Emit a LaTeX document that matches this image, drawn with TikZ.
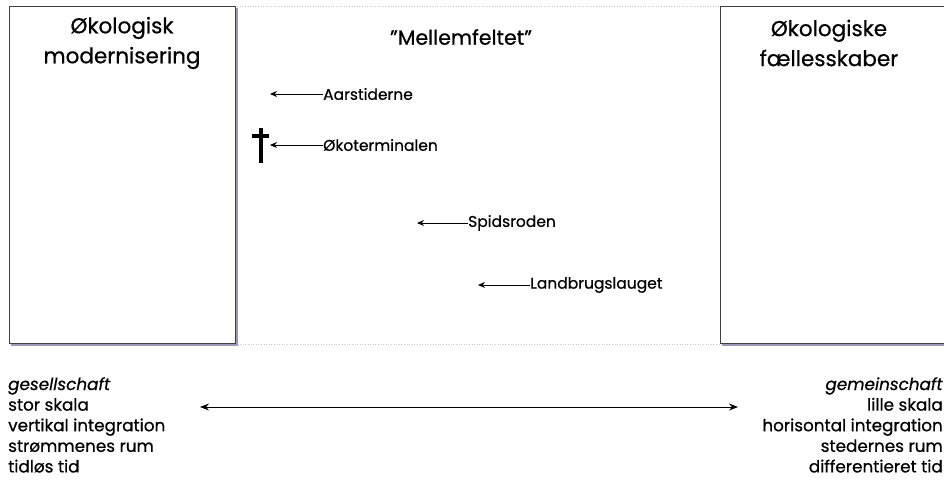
\documentclass[tikz,border=0pt]{standalone}
\usepackage{fontspec}
\setmainfont{Poppins}[FakeBold=0.6]
\usetikzlibrary{arrows.meta}
\definecolor{shadowc}{HTML}{9A9AB8}
\definecolor{dotc}{HTML}{C8C8C8}
\tikzset{
  bigbox/.style={draw=black!75, line width=0.8pt, fill=white},
  title/.style={font=\fontsize{21.5}{30}\selectfont, align=center, inner sep=0pt},
  lbl/.style={font=\fontsize{15.5}{18}\selectfont, anchor=west, inner sep=0pt},
  side/.style={font=\fontsize{16.8}{20.6}\selectfont, inner sep=0pt},
  pointer/.style={-{Stealth[length=7pt,width=6pt]}, line width=0.9pt},
}
\begin{document}
\begin{tikzpicture}[x=1pt,y=-1pt]
\useasboundingbox (0,0) rectangle (944,482);
% middle field
\draw[dotc, dotted, line width=0.6pt] (235,6) rectangle (720,344);
% left box
\fill[shadowc] (11,8) rectangle (238,346);
\draw[bigbox] (9,6) rectangle (235,343);
% right box
\fill[shadowc] (722,8) rectangle (950,346);
\draw[bigbox] (720,6) rectangle (948,343);
\node[title] (lt) at (122,43) {Økologisk\\modernisering};
\node[title] (rt) at (829,43) {Økologiske\\fællesskaber};
\node[title, font=\fontsize{20.5}{30}\selectfont] (mid) at (461,37) {"Mellemfeltet"};
% labels
\node[lbl] (a1) at (323,94) {Aarstiderne};
\coordinate (t1) at (270,94);
\draw[pointer] (a1.west) -- (t1);
\node[lbl] (a2) at (323,145) {Økoterminalen};
\coordinate (t2) at (270,145);
\draw[pointer] (a2.west) -- (t2);
\node[lbl] (a3) at (468,223) {Spidsroden};
\coordinate (t3) at (417,223);
\draw[pointer] (a3.west) -- (t3);
\node[lbl] (a4) at (530,285) {Landbrugslauget};
\coordinate (t4) at (478,285);
\draw[pointer] (a4.west) -- (t4);
% cross
\fill (258.5,128) rectangle (262.5,163);
\fill (252,134) rectangle (269,138);
% bottom
\node[side, anchor=north west, align=left] (ls) at (8,377) {\textit{gesellschaft}\\stor skala\\vertikal integration\\strømmenes rum\\tidløs tid};
\node[side, anchor=north east, align=right] (rs) at (943,377) {\textit{gemeinschaft}\\lille skala\\horisontal integration\\stedernes rum\\differentieret tid};
\coordinate (da) at (200,407);
\coordinate (db) at (738,407);
\draw[{Stealth[length=9pt,width=7pt]}-{Stealth[length=9pt,width=7pt]}, line width=1pt] (da) -- (db);
\end{tikzpicture}
\end{document}
